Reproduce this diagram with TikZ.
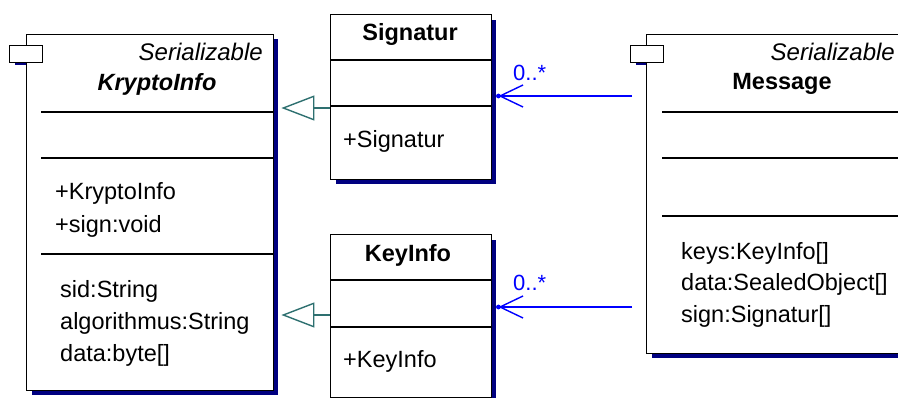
\documentclass[tikz,border=0pt]{standalone}
\usepackage{fontspec}
\setmainfont{Liberation Sans}
\usetikzlibrary{arrows.meta,backgrounds,calc}
\definecolor{shadowblue}{HTML}{000080}
\definecolor{genteal}{HTML}{2E7070}
\definecolor{assocblue}{HTML}{0000FF}
\begin{document}
\begin{tikzpicture}[x=1pt,y=-1pt,
  box/.style={draw=black, fill=white, line width=1.4pt, rectangle, inner sep=0pt, anchor=north west},
  tab/.style={draw=black, fill=white, line width=1.4pt, rectangle, inner sep=0pt, anchor=north west, minimum width=33pt, minimum height=17pt},
  sep/.style={draw=black, line width=1.4pt},
  txt/.style={inner sep=0pt, font=\fontsize{23.5}{32}\selectfont},
  stereo/.style={inner sep=0pt, font=\fontsize{24}{32}\selectfont\itshape},
  cname/.style={inner sep=0pt, font=\fontsize{23.5}{32}\selectfont\bfseries},
  mult/.style={inner sep=0pt, text=assocblue, font=\fontsize{22}{28}\selectfont},
  gen/.style={draw=genteal, line width=1.4pt, -{Triangle[open, length=33pt, width=25pt, line width=1.4pt]}},
  assoc/.style={draw=assocblue, line width=1.4pt, -{Straight Barb[length=23pt, width=22pt, line width=1.4pt]}}]
\clip (0,0) rectangle (898,398);

% KryptoInfo
\node[box, minimum width=247pt, minimum height=356pt] (kr) at (26,34) {};
\node[tab] (krtab) at (9,45) {};
\draw[sep] (41,112) -- (273,112);
\draw[sep] (41,158) -- (273,158);
\draw[sep] (41,254) -- (273,254);
\node[stereo, anchor=base east] (krst) at (263,61) {Serializable};
\node[cname, anchor=base, font=\fontsize{23.5}{32}\selectfont\bfseries\itshape] (krn) at (157,91) {KryptoInfo};
\node[txt, anchor=base west] (krm1) at (55,200) {+KryptoInfo};
\node[txt, anchor=base west] (krm2) at (55,233) {+sign:void};
\node[txt, anchor=base west] (kra1) at (60,298) {sid:String};
\node[txt, anchor=base west] (kra2) at (60,330) {algorithmus:String};
\node[txt, anchor=base west] (kra3) at (60,362) {data:byte[]};

% Signatur
\node[box, minimum width=161pt, minimum height=165pt] (sig) at (330,14) {};
\draw[sep] (330,60) -- (491,60);
\draw[sep] (330,106) -- (491,106);
\node[cname, anchor=base] (sign) at (410,41) {Signatur};
\node[txt, anchor=base west] (sigm) at (343,148) {+Signatur};

% KeyInfo
\node[box, minimum width=161pt, minimum height=163pt] (key) at (330,234) {};
\draw[sep] (330,280) -- (491,280);
\draw[sep] (330,327) -- (491,327);
\node[cname, anchor=base] (keyn) at (408,262) {KeyInfo};
\node[txt, anchor=base west] (keym) at (343,368) {+KeyInfo};

% Message
\node[box, minimum width=264pt, minimum height=319pt] (msg) at (646,34) {};
\node[tab] (msgtab) at (630,45) {};
\draw[sep] (662,112) -- (910,112);
\draw[sep] (662,158) -- (910,158);
\draw[sep] (662,216) -- (910,216);
\node[stereo, anchor=base east] (msgst) at (895,61) {Serializable};
\node[cname, anchor=base] (msgn) at (782,90) {Message};
\node[txt, anchor=base west] (msga1) at (681,260) {keys:KeyInfo[]};
\node[txt, anchor=base west] (msga2) at (681,291) {data:SealedObject[]};
\node[txt, anchor=base west] (msga3) at (681,323) {sign:Signatur[]};

% shadows
\begin{scope}[on background layer]
  \fill[shadowblue] (15,50) rectangle (46,65);
  \fill[shadowblue] (636,50) rectangle (667,65);
  \fill[shadowblue] ($(kr.north west)+(6,5)$) rectangle ($(kr.south east)+(4,4)$);
  \fill[shadowblue] ($(sig.north west)+(6,6)$) rectangle ($(sig.south east)+(4,4)$);
  \fill[shadowblue] ($(key.north west)+(6,6)$) rectangle ($(key.south east)+(4,4)$);
  \fill[shadowblue] ($(msg.north west)+(6,6)$) rectangle ($(msg.south east)+(4,4)$);
\end{scope}

% generalizations
\coordinate (g1) at (0,108);
\coordinate (g2) at (0,315);
\draw[gen, shorten >=7pt] (sig.west |- g1) -- (kr.east |- g1);
\draw[gen, shorten >=7pt] (key.west |- g2) -- (kr.east |- g2);

% associations
\coordinate (a1) at (632,96);
\coordinate (a2) at (632,307);
\draw[assoc, shorten >=6pt] (a1) -- (sig.east |- a1);
\draw[assoc, shorten >=6pt] (a2) -- (key.east |- a2);
\fill[assocblue] ($(sig.east |- a1)+(6,0)$) circle (2.4pt);
\fill[assocblue] ($(key.east |- a2)+(6,0)$) circle (2.4pt);
\node[mult, anchor=base west] (m1) at (513,81) {0..*};
\node[mult, anchor=base west] (m2) at (513,291) {0..*};
\end{tikzpicture}
\end{document}
